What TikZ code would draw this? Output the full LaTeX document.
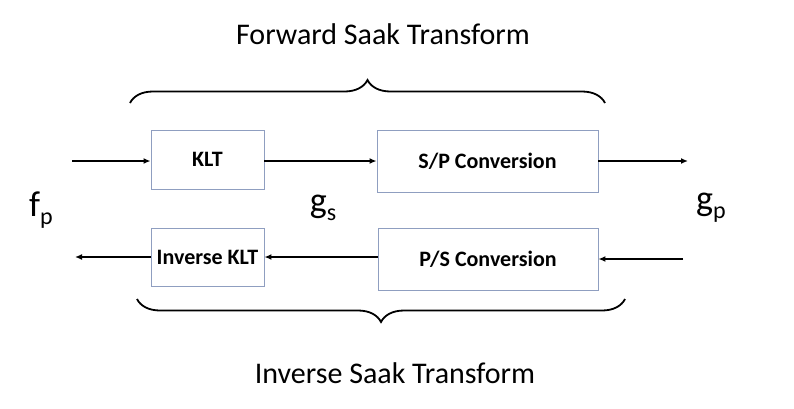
\documentclass[tikz,border=0pt]{standalone}
\usepackage{fontspec}
\setmainfont{Carlito}
\usetikzlibrary{positioning,arrows.meta,decorations.pathreplacing}
\definecolor{boxline}{RGB}{143,158,192}
\newcommand\lowidx[1]{\raisebox{-8pt}{\fontsize{24}{24}\selectfont #1}}
\tikzset{
  blk/.style  = {draw=boxline, line width=0.9pt, fill=white, align=center,
                 font=\fontsize{22}{24}\selectfont\bfseries, inner sep=0pt},
  ar/.style   = {-{Latex[length=7pt,width=6pt]}, line width=1.6pt},
  brc/.style  = {decorate, decoration={brace, amplitude=23pt}, line width=1.8pt},
  sig/.style  = {font=\fontsize{36}{36}\selectfont, inner sep=0pt},
  ttl/.style  = {font=\fontsize{30}{32}\selectfont, inner sep=0pt},
}
\begin{document}
\begin{tikzpicture}[x=1pt, y=-1pt]
\useasboundingbox (0,0) rectangle (794,408);

% --- forward path ---
\node[blk, minimum width=113pt, minimum height=59pt] (klt) at (207.5,159.5) {KLT};
\node[blk, minimum width=221pt, minimum height=62pt] (sp) at (487.5,161) {S/P Conversion};

% --- inverse path ---
\node[blk, minimum width=113pt, minimum height=58pt] (iklt) at (207.5,257) {Inverse KLT};
\node[blk, minimum width=220pt, minimum height=62pt] (ps) at (488,259) {P/S Conversion};

% --- signals ---
\node[sig] (fp) at (41,210) {f\lowidx{p}};
\node[sig] (gs) at (323,208) {g\lowidx{s}};
\node[sig] (gp) at (711,208) {g\lowidx{p}};

\coordinate (fin) at (72,161);
\coordinate (gout) at (688,161);
\coordinate (gin) at (683,259);
\coordinate (fout) at (75,258);

% --- arrows ---
\draw[ar] (fin) -- (klt.west |- fin);
\draw[ar] (klt.east |- fin) -- (sp.west |- fin);
\draw[ar] (sp.east |- gout) -- (gout);
\draw[ar] (gin) -- (ps.east |- gin);
\draw[ar] (ps.west |- iklt.east) -- (iklt.east);
\draw[ar] (iklt.west) -- (fout |- iklt.west);

% --- braces ---
\coordinate (fwdl) at (130,103);
\coordinate (fwdr) at (605,103);
\coordinate (invl) at (137,299);
\coordinate (invr) at (625,299);
\draw[brc] (fwdl) -- (fwdr);
\draw[brc] (invr) -- (invl);
\node[ttl] (fwd) at (383,34) {Forward Saak Transform};
\node[ttl] (inv) at (395,373) {Inverse Saak Transform};
\end{tikzpicture}
\end{document}
